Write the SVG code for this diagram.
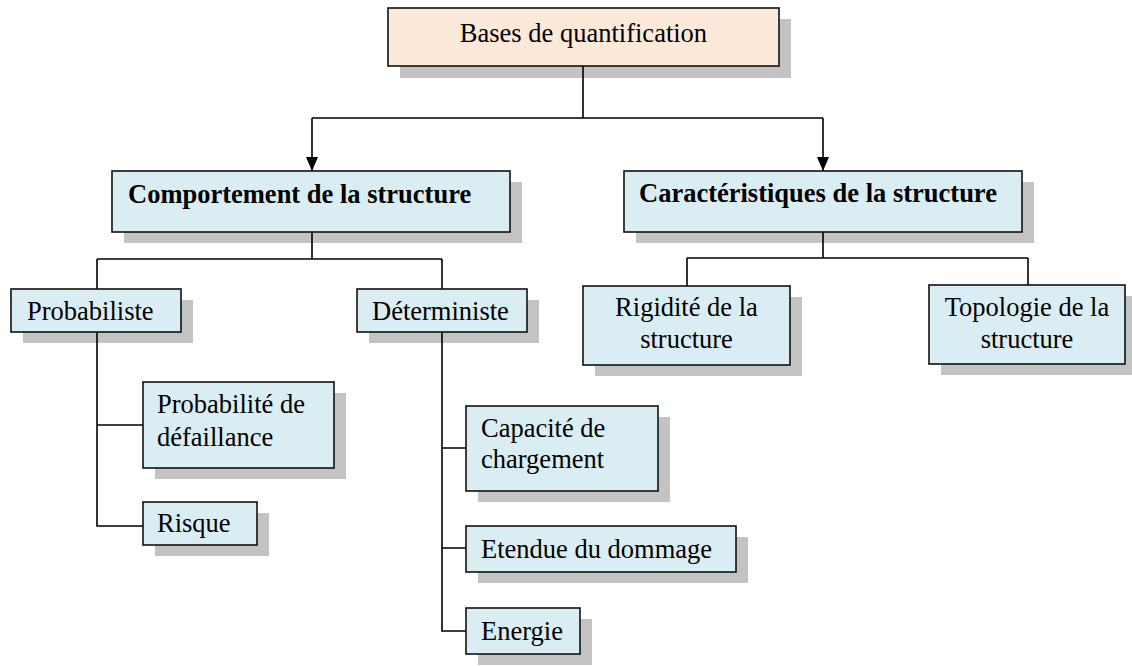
<svg xmlns="http://www.w3.org/2000/svg" width="1132" height="666" viewBox="0 0 1132 666">
<style>
.sh{fill:#c3c3c3}
.bx{fill:#daedf3;stroke:#111;stroke-width:1.6}
.top{fill:#fde9da;stroke:#111;stroke-width:1.6}
.t{font-family:"Liberation Serif","Times New Roman",serif;font-size:26.5px;fill:#000}
.b{font-weight:bold}
.m{text-anchor:middle}
.ln{stroke:#000;stroke-width:1.6;fill:none}
</style>
<defs>
<marker id="arr" markerUnits="userSpaceOnUse" markerWidth="12" markerHeight="14" viewBox="0 0 12 14" refX="6" refY="14" orient="0">
<path d="M0,0 L12,0 L6,14 Z" fill="#000"/>
</marker>
</defs>
<rect width="1132" height="666" fill="#fff"/>
<g id="shadows">
<rect class="sh" x="400" y="19" width="391" height="59"/>
<rect class="sh" x="124" y="182" width="398" height="61"/>
<rect class="sh" x="636" y="182" width="398" height="61"/>
<rect class="sh" x="23" y="300" width="170" height="43"/>
<rect class="sh" x="369" y="300" width="170" height="43"/>
<rect class="sh" x="595" y="297" width="207" height="79"/>
<rect class="sh" x="941" y="296" width="196" height="79"/>
<rect class="sh" x="155" y="393" width="191" height="86"/>
<rect class="sh" x="155" y="513" width="114" height="43"/>
<rect class="sh" x="478" y="417" width="192" height="85"/>
<rect class="sh" x="478" y="537" width="270" height="46"/>
<rect class="sh" x="478" y="619" width="114" height="46"/>
</g>
<g id="connectors">
<path class="ln" d="M583,66 V118 M312,118 H823"/>
<line class="ln" x1="312" y1="118" x2="312" y2="171" marker-end="url(#arr)"/>
<line class="ln" x1="823" y1="118" x2="823" y2="171" marker-end="url(#arr)"/>
<path class="ln" d="M312,232 V259 M97,259 H442 M97,259 V289 M442,259 V289"/>
<path class="ln" d="M823,232 V258 M687,258 H1028 M687,258 V286 M1028,258 V285"/>
<path class="ln" d="M97,332 V526 H143 M97,425 H143"/>
<path class="ln" d="M442,332 V631 H466 M442,448 H466 M442,548 H466"/>
</g>
<g id="n-bases">
<rect class="top" x="388" y="8" width="391" height="58"/>
<text class="t m" x="583.5" y="42">Bases de quantification</text>
</g>
<g id="n-comportement">
<rect class="bx" x="112" y="171" width="398" height="61"/>
<text class="t b" x="128" y="203">Comportement de la structure</text>
</g>
<g id="n-caracteristiques">
<rect class="bx" x="624" y="171" width="398" height="61"/>
<text class="t b" x="639" y="202">Caractéristiques de la structure</text>
</g>
<g id="n-probabiliste">
<rect class="bx" x="11" y="289" width="170" height="43"/>
<text class="t" x="27" y="320">Probabiliste</text>
</g>
<g id="n-deterministe">
<rect class="bx" x="357" y="289" width="170" height="43"/>
<text class="t" x="372" y="320">Déterministe</text>
</g>
<g id="n-rigidite">
<rect class="bx" x="583" y="286" width="207" height="79"/>
<text class="t m" x="686.5" y="316">Rigidité de la</text>
<text class="t m" x="686.5" y="348">structure</text>
</g>
<g id="n-topologie">
<rect class="bx" x="929" y="285" width="196" height="79"/>
<text class="t m" x="1027" y="316">Topologie de la</text>
<text class="t m" x="1027" y="348">structure</text>
</g>
<g id="n-probabilite">
<rect class="bx" x="143" y="382" width="191" height="86"/>
<text class="t" x="157" y="413">Probabilité de</text>
<text class="t" x="157" y="446">défaillance</text>
</g>
<g id="n-risque">
<rect class="bx" x="143" y="502" width="114" height="43"/>
<text class="t" x="157" y="532">Risque</text>
</g>
<g id="n-capacite">
<rect class="bx" x="466" y="406" width="192" height="85"/>
<text class="t" x="481" y="437">Capacité de</text>
<text class="t" x="481" y="468">chargement</text>
</g>
<g id="n-etendue">
<rect class="bx" x="466" y="526" width="270" height="46"/>
<text class="t" x="481" y="558">Etendue du dommage</text>
</g>
<g id="n-energie">
<rect class="bx" x="466" y="608" width="114" height="46"/>
<text class="t" x="481" y="640">Energie</text>
</g>
</svg>
